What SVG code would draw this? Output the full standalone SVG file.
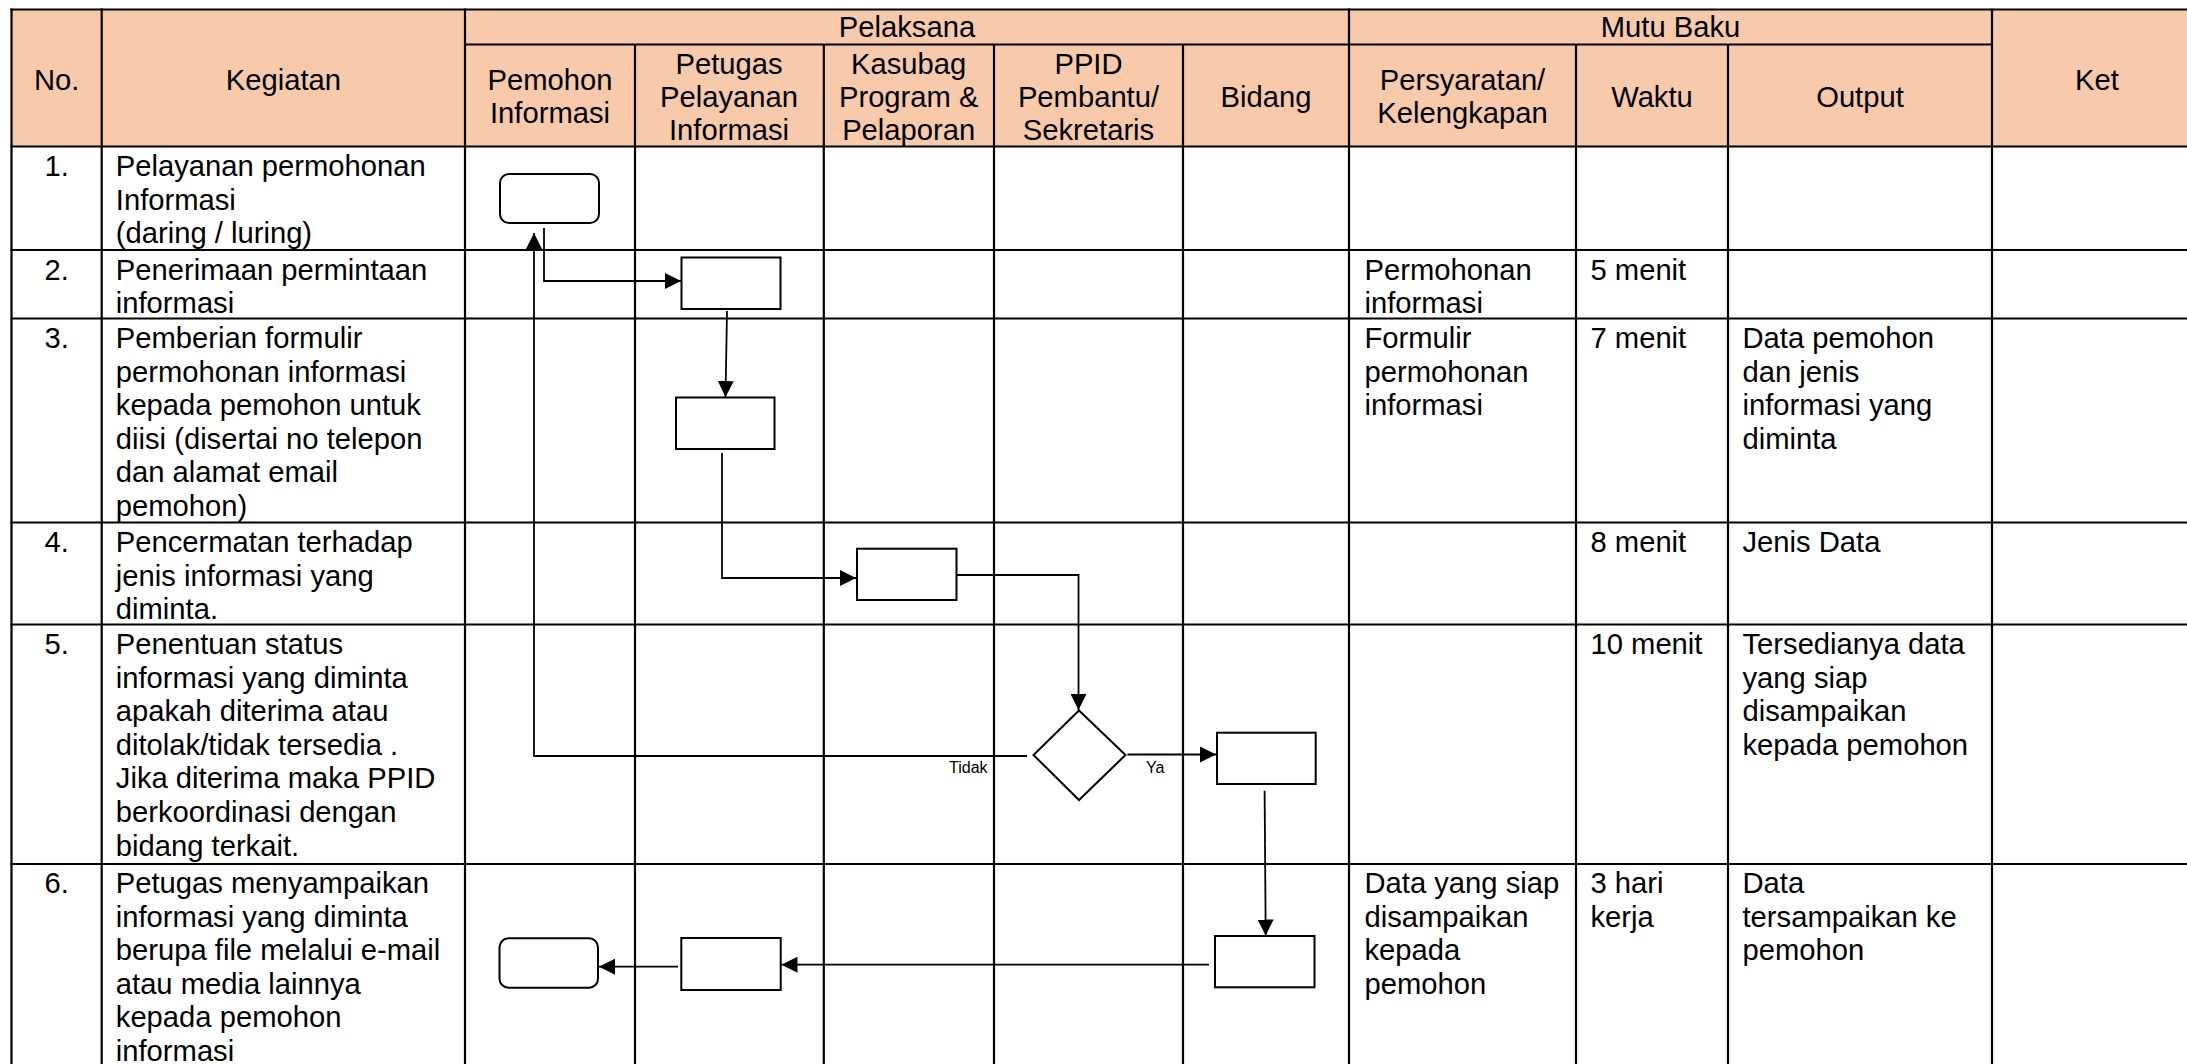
<svg xmlns="http://www.w3.org/2000/svg" width="2187" height="1064" viewBox="0 0 2187 1064">
<defs>
<style>
.t{font-family:"Liberation Sans",Arial,sans-serif;font-size:29.2px;fill:#000}
.c{text-anchor:middle}
.s{font-family:"Liberation Sans",Arial,sans-serif;font-size:16px;fill:#000}
.grid line{stroke:#000;stroke-width:2.2}
.node{fill:#fff;stroke:#000;stroke-width:2}
.conn{fill:none;stroke:#000;stroke-width:1.8;marker-end:url(#arr)}
</style>
<marker id="arr" markerUnits="userSpaceOnUse" markerWidth="16" markerHeight="16" viewBox="0 0 16 16" refX="16" refY="8" orient="auto">
<path d="M0,0 L16,8 L0,16 z" fill="#000"/>
</marker>
</defs>
<rect width="2187" height="1064" fill="#fff"/>
<rect x="11.5" y="9.5" width="2180" height="137" fill="#F7CAAC"/>
<g id="grid" class="grid">
<line x1="10.4" y1="9.5" x2="2187" y2="9.5"/>
<line x1="465" y1="44.5" x2="1992" y2="44.5"/>
<line x1="10.4" y1="146.5" x2="2187" y2="146.5"/>
<line x1="10.4" y1="250" x2="2187" y2="250"/>
<line x1="10.4" y1="318.5" x2="2187" y2="318.5"/>
<line x1="10.4" y1="522.5" x2="2187" y2="522.5"/>
<line x1="10.4" y1="624.5" x2="2187" y2="624.5"/>
<line x1="10.4" y1="864" x2="2187" y2="864"/>
<line x1="11.5" y1="8.4" x2="11.5" y2="1064"/>
<line x1="101.7" y1="8.4" x2="101.7" y2="1064"/>
<line x1="465" y1="8.4" x2="465" y2="1064"/>
<line x1="635" y1="44.5" x2="635" y2="1064"/>
<line x1="823.8" y1="44.5" x2="823.8" y2="1064"/>
<line x1="994" y1="44.5" x2="994" y2="1064"/>
<line x1="1183" y1="44.5" x2="1183" y2="1064"/>
<line x1="1349" y1="8.4" x2="1349" y2="1064"/>
<line x1="1576" y1="44.5" x2="1576" y2="1064"/>
<line x1="1728" y1="44.5" x2="1728" y2="1064"/>
<line x1="1992" y1="8.4" x2="1992" y2="1064"/>
</g>
<g id="header" class="t c">
<text x="56.6" y="89.5">No.</text>
<text x="283.4" y="89.5">Kegiatan</text>
<text x="907" y="37">Pelaksana</text>
<text x="1670.5" y="37">Mutu Baku</text>
<text x="550" y="90">Pemohon<tspan x="550" dy="33">Informasi</tspan></text>
<text x="729" y="73.5">Petugas<tspan x="729" dy="33">Pelayanan</tspan><tspan x="729" dy="33">Informasi</tspan></text>
<text x="908.7" y="73.5">Kasubag<tspan x="908.7" dy="33">Program &amp;</tspan><tspan x="908.7" dy="33">Pelaporan</tspan></text>
<text x="1088.5" y="73.5">PPID<tspan x="1088.5" dy="33">Pembantu/</tspan><tspan x="1088.5" dy="33">Sekretaris</tspan></text>
<text x="1266" y="106.7">Bidang</text>
<text x="1462.5" y="90">Persyaratan/<tspan x="1462.5" dy="33">Kelengkapan</tspan></text>
<text x="1652" y="106.7">Waktu</text>
<text x="1860" y="106.7">Output</text>
<text x="2097" y="89.5">Ket</text>
</g>
<g id="numbers" class="t c">
<text x="56.6" y="176">1.</text>
<text x="56.6" y="279.5">2.</text>
<text x="56.6" y="348">3.</text>
<text x="56.6" y="552">4.</text>
<text x="56.6" y="654">5.</text>
<text x="56.6" y="893">6.</text>
</g>
<g id="kegiatan" class="t">
<text x="115.8" y="176">Pelayanan permohonan<tspan x="115.8" dy="33.6">Informasi</tspan><tspan x="115.8" dy="33.6">(daring / luring)</tspan></text>
<text x="115.8" y="279.5">Penerimaan permintaan<tspan x="115.8" dy="33.6">informasi</tspan></text>
<text x="115.8" y="348">Pemberian formulir<tspan x="115.8" dy="33.6">permohonan informasi</tspan><tspan x="115.8" dy="33.6">kepada pemohon untuk</tspan><tspan x="115.8" dy="33.6">diisi (disertai no telepon</tspan><tspan x="115.8" dy="33.6">dan alamat email</tspan><tspan x="115.8" dy="33.6">pemohon)</tspan></text>
<text x="115.8" y="552">Pencermatan terhadap<tspan x="115.8" dy="33.6">jenis informasi yang</tspan><tspan x="115.8" dy="33.6">diminta.</tspan></text>
<text x="115.8" y="654">Penentuan status<tspan x="115.8" dy="33.6">informasi yang diminta</tspan><tspan x="115.8" dy="33.6">apakah diterima atau</tspan><tspan x="115.8" dy="33.6">ditolak/tidak tersedia .</tspan><tspan x="115.8" dy="33.6">Jika diterima maka PPID</tspan><tspan x="115.8" dy="33.6">berkoordinasi dengan</tspan><tspan x="115.8" dy="33.6">bidang terkait.</tspan></text>
<text x="115.8" y="893">Petugas menyampaikan<tspan x="115.8" dy="33.6">informasi yang diminta</tspan><tspan x="115.8" dy="33.6">berupa file melalui e-mail</tspan><tspan x="115.8" dy="33.6">atau media lainnya</tspan><tspan x="115.8" dy="33.6">kepada pemohon</tspan><tspan x="115.8" dy="33.6">informasi</tspan></text>
</g>
<g id="mutu" class="t">
<text x="1364.5" y="279.5">Permohonan<tspan x="1364.5" dy="33.6">informasi</tspan></text>
<text x="1364.5" y="348">Formulir<tspan x="1364.5" dy="33.6">permohonan</tspan><tspan x="1364.5" dy="33.6">informasi</tspan></text>
<text x="1364.5" y="893">Data yang siap<tspan x="1364.5" dy="33.6">disampaikan</tspan><tspan x="1364.5" dy="33.6">kepada</tspan><tspan x="1364.5" dy="33.6">pemohon</tspan></text>
<text x="1590.5" y="279.5">5 menit</text>
<text x="1590.5" y="348">7 menit</text>
<text x="1590.5" y="552">8 menit</text>
<text x="1590.5" y="654">10 menit</text>
<text x="1590.5" y="893">3 hari<tspan x="1590.5" dy="33.6">kerja</tspan></text>
<text x="1742.5" y="348">Data pemohon<tspan x="1742.5" dy="33.6">dan jenis</tspan><tspan x="1742.5" dy="33.6">informasi yang</tspan><tspan x="1742.5" dy="33.6">diminta</tspan></text>
<text x="1742.5" y="552">Jenis Data</text>
<text x="1742.5" y="654">Tersedianya data<tspan x="1742.5" dy="33.6">yang siap</tspan><tspan x="1742.5" dy="33.6">disampaikan</tspan><tspan x="1742.5" dy="33.6">kepada pemohon</tspan></text>
<text x="1742.5" y="893">Data<tspan x="1742.5" dy="33.6">tersampaikan ke</tspan><tspan x="1742.5" dy="33.6">pemohon</tspan></text>
</g>
<g id="connectors">
<path class="conn" d="M544,228 V281 H681"/>
<path class="conn" d="M727,311 L725.5,397"/>
<path class="conn" d="M722,453 V578 H856"/>
<path class="conn" d="M956.5,575 H1078.5 V710"/>
<path class="conn" d="M1027,756 H534 V233"/>
<path class="conn" d="M1127.5,754.5 H1216"/>
<path class="conn" d="M1264.6,790.7 L1265.7,935.5"/>
<path class="conn" d="M1209,964.7 H781.5"/>
<path class="conn" d="M678,966.7 H599"/>
<text class="s" x="949" y="773">Tidak</text>
<text class="s" x="1146" y="773">Ya</text>
</g>
<g id="n1"><rect class="node" x="500" y="174" width="99" height="49" rx="9"/></g>
<g id="n2"><rect class="node" x="681.5" y="257.5" width="99" height="51.5"/></g>
<g id="n3"><rect class="node" x="676" y="397.5" width="98.5" height="51.5"/></g>
<g id="n4"><rect class="node" x="857" y="548.7" width="99.5" height="51.3"/></g>
<g id="n5"><polygon class="node" points="1079,710.5 1125.5,755 1079,800 1033.5,755"/></g>
<g id="n6"><rect class="node" x="1217" y="732.7" width="98.7" height="51.3"/></g>
<g id="n7"><rect class="node" x="1215" y="936" width="99.5" height="51.3"/></g>
<g id="n8"><rect class="node" x="681.3" y="938" width="99.4" height="52"/></g>
<g id="n9"><rect class="node" x="499.5" y="938.3" width="98.5" height="49.4" rx="9"/></g>
</svg>
